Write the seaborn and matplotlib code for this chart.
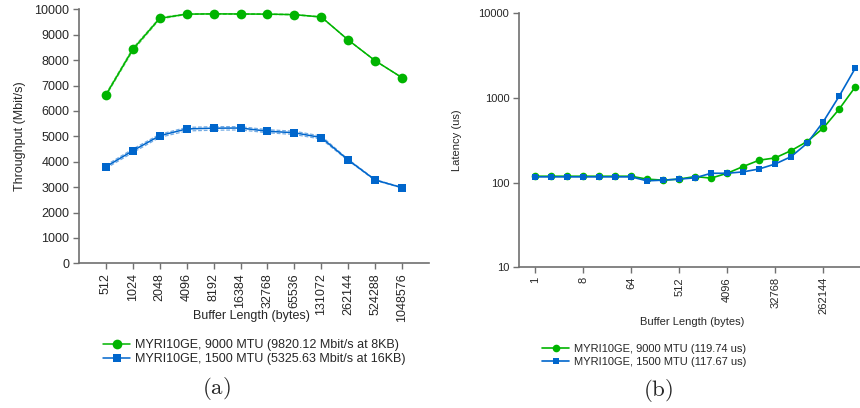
import numpy as np
import pandas as pd
import matplotlib
matplotlib.use("Agg")
import matplotlib.pyplot as plt
import seaborn as sns

# ---- data: throughput (a) ----
tp_sizes = ["512", "1024", "2048", "4096", "8192", "16384", "32768", "65536",
            "131072", "262144", "524288", "1048576"]
tp_9000 = [6630, 8425, 9646, 9810, 9820, 9815, 9810, 9790, 9697, 8791, 7976, 7307]
tp_9000_lo = [6590, 8370, 9615, 9798, 9810, 9806, 9800, 9778, 9688, 8791, 7976, 7307]
tp_9000_hi = [6670, 8470, 9675, 9822, 9828, 9824, 9820, 9802, 9706, 8791, 7976, 7307]
tp_1500 = [3803, 4433, 5024, 5290, 5320, 5326, 5200, 5140, 4950, 4067, 3280, 2978]
tp_1500_lo = [3740, 4360, 4960, 5210, 5240, 5250, 5140, 5070, 4890, 4045, 3262, 2968]
tp_1500_hi = [3860, 4500, 5080, 5350, 5380, 5380, 5260, 5200, 5010, 4090, 3298, 2988]

# ---- data: latency (b) ----
lat_sizes = [2 ** k for k in range(21)]
lat_9000 = [119, 119, 119, 119, 119, 119, 119, 110, 107, 110, 118, 113, 129, 155,
            184, 196, 239, 306, 440, 739, 1346]
lat_1500 = [117, 117, 117, 117, 117, 117, 117, 105, 107, 110, 114, 129, 129, 134,
            145, 166, 203, 292, 522, 1050, 2240]
lat_ticks = [1, 8, 64, 512, 4096, 32768, 262144]

label_a1 = "MYRI10GE, 9000 MTU (9820.12 Mbit/s at 8KB)"
label_a2 = "MYRI10GE, 1500 MTU (5325.63 Mbit/s at 16KB)"
label_b1 = "MYRI10GE, 9000 MTU (119.74 us)"
label_b2 = "MYRI10GE, 1500 MTU (117.67 us)"

GREEN = "#00b400"
BLUE = "#0066cc"
SPINE = "#707070"

sns.set_theme(style="ticks")
plt.rcParams["font.family"] = ["Liberation Sans", "DejaVu Sans"]
plt.rcParams["mathtext.fontset"] = "cm"

fig = plt.figure(figsize=(8.6, 4.08), dpi=100)
W, H = 860, 408
ax1 = fig.add_axes([79 / W, 1 - 263.3 / H, (429 - 79) / W, (263.3 - 9.3) / H])
ax2 = fig.add_axes([519 / W, 1 - 267.3 / H, (860 - 519) / W, (267.3 - 13.3) / H])

# ---- panel (a) ----
idx = np.arange(len(tp_sizes))
for lo, hi, col in [(tp_9000_lo, tp_9000_hi, GREEN), (tp_1500_lo, tp_1500_hi, BLUE)]:
    for arr in (lo, hi):
        sns.lineplot(x=idx, y=arr, ax=ax1, color=col, lw=0.9, ls=(0, (3, 1.5)),
                     alpha=0.55, legend=False)
sns.lineplot(x=idx, y=tp_9000, ax=ax1, color=GREEN, lw=1.1, marker="o",
             markersize=7, markeredgewidth=0, label=label_a1)
sns.lineplot(x=idx, y=tp_1500, ax=ax1, color=BLUE, lw=1.1, marker="s",
             markersize=5.5, markeredgewidth=0, label=label_a2)
ax1.set_xlim(-1, 12)
ax1.set_ylim(0, 10000)
ax1.set_yticks(range(0, 10001, 1000))
ax1.set_xticks(idx)
ax1.set_xticklabels(tp_sizes, rotation=90)
ax1.set_xlabel("Buffer Length (bytes)", fontsize=9)
ax1.xaxis.set_label_coords(0.494, -0.184)
ax1.set_ylabel("Throughput (Mbit/s)", fontsize=9, labelpad=6)
ax1.tick_params(labelsize=9, length=4, color=SPINE, width=1, pad=3)
ax1.legend(loc="upper center", bbox_to_anchor=(0.501, -0.278), frameon=False,
           fontsize=9, handlelength=2.2, handletextpad=0.4, labelspacing=0.2,
           borderaxespad=0)

# ---- panel (b) ----
sns.lineplot(x=lat_sizes, y=lat_9000, ax=ax2, color=GREEN, lw=1.2, marker="o",
             markersize=5.5, markeredgewidth=0, label=label_b1)
sns.lineplot(x=lat_sizes, y=lat_1500, ax=ax2, color=BLUE, lw=1.2, marker="s",
             markersize=4.5, markeredgewidth=0, label=label_b2)
ax2.set_xscale("log", base=2)
ax2.set_yscale("log")
ax2.set_xlim(2 ** -1, 2 ** 20.3)
ax2.set_ylim(10, 10000)
ax2.set_xticks(lat_ticks)
ax2.set_xticklabels([str(t) for t in lat_ticks], rotation=90)
ax2.xaxis.set_minor_locator(matplotlib.ticker.NullLocator())
ax2.yaxis.set_minor_locator(matplotlib.ticker.NullLocator())
ax2.set_yticks([10, 100, 1000, 10000])
ax2.set_yticklabels(["10", "100", "1000", "10000"])
ax2.set_xlabel("Buffer Length (bytes)", fontsize=8)
ax2.xaxis.set_label_coords(0.509, -0.196)
ax2.set_ylabel("Latency (us)", fontsize=8, labelpad=12)
ax2.tick_params(labelsize=8, length=4, color=SPINE, width=1, pad=3)
ax2.legend(loc="upper center", bbox_to_anchor=(0.367, -0.286), frameon=False,
           fontsize=8, handlelength=2.4, handletextpad=0.4, labelspacing=0.25,
           borderaxespad=0)

for ax in (ax1, ax2):
    sns.despine(ax=ax)
    for s in ("left", "bottom"):
        ax.spines[s].set_color(SPINE)
        ax.spines[s].set_linewidth(1.2)

fig.text(216 / W, 1 - 389 / H, r"$\mathrm{(a)}$", ha="center", va="center", fontsize=16.5)
fig.text(658 / W, 1 - 391 / H, r"$\mathrm{(b)}$", ha="center", va="center", fontsize=16.5)

fig.savefig("out.png", dpi=100)
